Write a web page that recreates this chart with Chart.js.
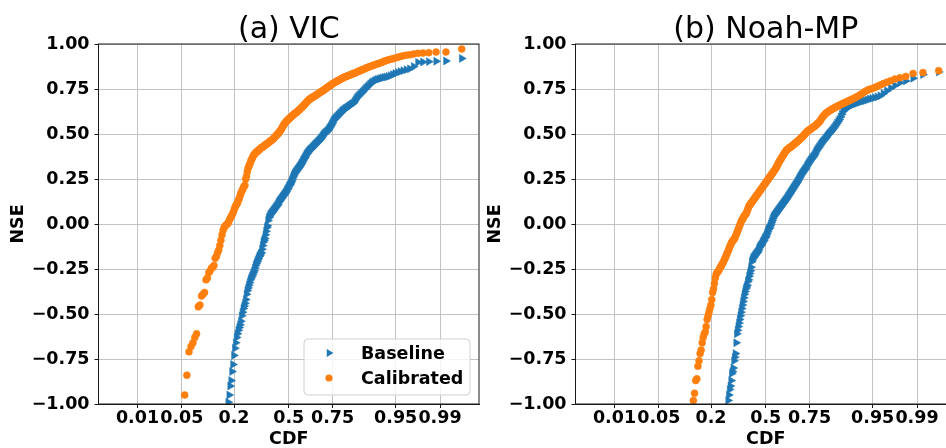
<!DOCTYPE html>
<html><head><meta charset="utf-8">
<script src="https://cdn.jsdelivr.net/npm/chart.js@4.4.0/dist/chart.umd.min.js"></script>
<style>
html,body{margin:0;padding:0;background:#fff;overflow:hidden;width:946px;height:448px;}
#wrap{position:relative;width:946px;height:448px;overflow:hidden;background:#fff;}
.panel{position:absolute;top:0;width:490px;height:448px;}
#pa{left:0;}
#pb{left:477px;}
canvas{display:block;}
</style></head><body>
<div id="wrap">
<div class="panel" id="pa"><canvas id="ca" width="490" height="448" style="width:490px;height:448px"></canvas></div>
<div class="panel" id="pb"><canvas id="cb" width="490" height="448" style="width:490px;height:448px"></canvas></div>
</div>
<script>
// ---------------- data ----------------
const nSites = 255;                       // catchments per series (ranked)
const cdfTicks = [0.01, 0.05, 0.2, 0.5, 0.75, 0.95, 0.99];
const cdfTickLabels = ['0.01', '0.05', '0.2', '0.5', '0.75', '0.95', '0.99'];
const nseMin = -1, nseMax = 1, nseStep = 0.25;
const panelTitles = ['(a) VIC', '(b) Noah-MP'];
const seriesNames = ['Baseline', 'Calibrated'];

// number of ranked values lying below NSE = -1 (off the plotted range)
const vicBaselineBelow = 44;
const vicBaseline = [
-0.99,-0.95,-0.90,-0.87,-0.82,-0.78,
-0.73,-0.69,-0.66,-0.63,-0.61,-0.59,-0.575,-0.56,-0.54,-0.51,
-0.49,-0.47,-0.455,-0.44,-0.42,-0.39,-0.37,-0.355,-0.34,-0.325,
-0.31,-0.30,-0.29,-0.28,-0.27,-0.26,-0.245,-0.23,-0.22,-0.21,
-0.20,-0.19,-0.18,-0.175,-0.165,-0.16,-0.14,-0.12,-0.10,-0.09,
-0.08,-0.06,-0.04,-0.02,-0.01,0.02,0.035,0.04,0.05,0.055,
0.06,0.065,0.07,0.075,0.08,0.085,0.09,0.095,0.10,0.105,
0.11,0.12,0.125,0.13,0.135,0.14,0.145,0.15,0.155,0.16,
0.165,0.17,0.175,0.18,0.19,0.195,0.20,0.21,0.215,0.22,
0.228,0.235,0.245,0.255,0.265,0.272,0.28,0.285,0.29,0.295,
0.30,0.305,0.31,0.315,0.32,0.326,0.332,0.338,0.345,0.352,
0.358,0.364,0.37,0.378,0.385,0.39,0.395,0.40,0.405,0.41,
0.413,0.416,0.42,0.424,0.428,0.432,0.436,0.44,0.444,0.448,
0.452,0.456,0.46,0.464,0.468,0.473,0.478,0.484,0.49,0.497,
0.50,0.504,0.508,0.512,0.516,0.52,0.527,0.534,0.54,0.548,
0.556,0.565,0.575,0.58,0.585,0.59,0.595,0.60,0.605,0.61,
0.615,0.62,0.625,0.63,0.634,0.638,0.642,0.645,0.648,0.652,
0.656,0.66,0.664,0.668,0.672,0.68,0.69,0.70,0.707,0.713,
0.72,0.727,0.733,0.74,0.748,0.755,0.763,0.77,0.778,0.785,
0.79,0.795,0.80,0.803,0.806,0.809,0.812,0.815,0.817,0.82,
0.824,0.83,0.836,0.842,0.847,0.852,0.857,0.862,0.875,0.898,
0.90,0.902,0.904,0.906,0.92];

const vicCalibratedBelow = 13;
const vicCalibrated = [
-0.95,-0.84,-0.71,-0.68,-0.66,-0.63,-0.61,
-0.46,-0.45,-0.40,-0.39,-0.38,-0.31,-0.30,-0.27,-0.26,-0.245,
-0.24,-0.23,-0.19,-0.18,-0.16,-0.145,-0.12,-0.09,-0.06,-0.035,
-0.02,-0.01,-0.005,0.00,0.005,0.02,0.03,0.04,0.05,0.06,
0.075,0.09,0.10,0.11,0.115,0.13,0.14,0.155,0.17,0.18,
0.19,0.20,0.21,0.215,0.25,0.265,0.29,0.31,0.32,0.33,
0.34,0.355,0.36,0.37,0.38,0.385,0.39,0.395,0.40,0.402,
0.405,0.41,0.412,0.415,0.42,0.423,0.425,0.428,0.43,0.433,
0.436,0.44,0.442,0.445,0.448,0.45,0.453,0.456,0.46,0.462,
0.465,0.468,0.47,0.474,0.478,0.482,0.486,0.49,0.494,0.498,
0.50,0.505,0.51,0.515,0.52,0.525,0.53,0.537,0.545,0.55,
0.555,0.56,0.565,0.57,0.573,0.576,0.58,0.584,0.587,0.59,
0.593,0.596,0.60,0.603,0.606,0.609,0.612,0.615,0.618,0.62,
0.623,0.626,0.63,0.633,0.636,0.64,0.643,0.646,0.65,0.654,
0.658,0.662,0.666,0.67,0.674,0.678,0.682,0.686,0.69,0.693,
0.695,0.698,0.70,0.702,0.705,0.707,0.71,0.712,0.714,0.717,
0.72,0.722,0.725,0.728,0.73,0.733,0.735,0.738,0.74,0.743,
0.746,0.749,0.752,0.755,0.758,0.761,0.764,0.767,0.77,0.773,
0.776,0.779,0.782,0.785,0.788,0.79,0.793,0.796,0.798,0.80,
0.803,0.806,0.808,0.811,0.814,0.816,0.818,0.82,0.822,0.825,
0.827,0.829,0.831,0.834,0.836,0.838,0.84,0.843,0.846,0.849,
0.851,0.854,0.857,0.86,0.863,0.866,0.869,0.872,0.875,0.878,
0.881,0.884,0.887,0.89,0.893,0.896,0.90,0.905,0.908,0.912,
0.915,0.918,0.922,0.926,0.93,0.935,0.938,0.94,0.945,0.948,
0.95,0.952,0.955,0.955,0.972];

const noahBaselineBelow = 71;
const noahBaseline = [
-0.98,-0.95,-0.92,-0.90,-0.87,-0.83,-0.82,-0.80,-0.76,
-0.74,-0.72,-0.66,-0.61,-0.59,-0.57,-0.55,-0.53,-0.51,-0.49,
-0.47,-0.45,-0.43,-0.41,-0.39,-0.375,-0.36,-0.35,-0.34,-0.32,
-0.31,-0.29,-0.275,-0.26,-0.24,-0.21,-0.20,-0.19,-0.185,-0.18,
-0.175,-0.17,-0.165,-0.16,-0.155,-0.15,-0.14,-0.13,-0.125,-0.12,
-0.115,-0.11,-0.10,-0.095,-0.09,-0.08,-0.075,-0.07,-0.06,-0.05,
-0.04,-0.03,-0.025,-0.02,-0.01,0.00,0.01,0.02,0.03,0.04,
0.045,0.05,0.055,0.06,0.065,0.07,0.075,0.08,0.085,0.09,
0.095,0.10,0.105,0.11,0.115,0.12,0.125,0.13,0.135,0.14,
0.146,0.152,0.158,0.164,0.17,0.176,0.182,0.188,0.194,0.20,
0.206,0.212,0.218,0.224,0.23,0.237,0.245,0.252,0.26,0.267,
0.273,0.28,0.286,0.292,0.298,0.304,0.31,0.318,0.326,0.334,
0.34,0.347,0.354,0.36,0.366,0.372,0.378,0.385,0.395,0.405,
0.413,0.42,0.427,0.434,0.442,0.45,0.456,0.462,0.468,0.475,
0.482,0.49,0.497,0.504,0.51,0.517,0.524,0.532,0.54,0.55,
0.56,0.57,0.58,0.595,0.61,0.625,0.635,0.64,0.645,0.65,
0.655,0.66,0.664,0.667,0.67,0.673,0.676,0.68,0.683,0.686,
0.69,0.694,0.698,0.702,0.706,0.712,0.725,0.74,0.755,0.77,
0.785,0.795,0.81,0.83,0.845];

const noahCalibratedBelow = 33;
const noahCalibrated = [
-0.98,-0.94,-0.87,-0.86,-0.79,-0.76,-0.72,
-0.70,-0.66,-0.63,-0.61,-0.60,-0.57,-0.53,-0.51,-0.49,-0.47,
-0.45,-0.42,-0.38,-0.36,-0.33,-0.30,-0.28,-0.27,-0.265,-0.26,
-0.25,-0.24,-0.235,-0.225,-0.218,-0.21,-0.20,-0.19,-0.18,-0.17,
-0.16,-0.15,-0.14,-0.127,-0.12,-0.11,-0.10,-0.095,-0.09,-0.085,
-0.08,-0.07,-0.06,-0.05,-0.04,-0.03,-0.02,-0.01,0.00,0.01,
0.02,0.025,0.03,0.04,0.045,0.05,0.055,0.06,0.07,0.08,
0.09,0.10,0.105,0.11,0.115,0.12,0.125,0.13,0.135,0.14,
0.145,0.15,0.155,0.16,0.165,0.17,0.175,0.18,0.185,0.19,
0.195,0.20,0.205,0.21,0.215,0.22,0.225,0.23,0.235,0.24,
0.245,0.25,0.255,0.26,0.265,0.27,0.275,0.28,0.285,0.29,
0.295,0.30,0.305,0.31,0.318,0.325,0.332,0.34,0.346,0.352,
0.358,0.364,0.37,0.376,0.382,0.388,0.394,0.40,0.405,0.41,
0.413,0.416,0.419,0.422,0.425,0.428,0.43,0.433,0.436,0.44,
0.443,0.446,0.45,0.453,0.456,0.46,0.463,0.466,0.47,0.474,
0.478,0.482,0.486,0.49,0.495,0.50,0.505,0.51,0.514,0.518,
0.521,0.524,0.527,0.53,0.533,0.536,0.54,0.543,0.547,0.551,
0.556,0.56,0.565,0.57,0.578,0.586,0.594,0.60,0.606,0.612,
0.617,0.621,0.625,0.629,0.632,0.636,0.64,0.643,0.646,0.65,
0.653,0.656,0.66,0.663,0.666,0.67,0.673,0.676,0.68,0.684,
0.688,0.692,0.696,0.70,0.705,0.71,0.716,0.722,0.73,0.737,
0.744,0.748,0.753,0.758,0.765,0.772,0.78,0.788,0.796,0.805,
0.812,0.82,0.836,0.841,0.852];

// ---------------- probability (normal quantile) axis helper ----------------
function qnorm(p){
  const a=[-3.969683028665376e+01,2.209460984245205e+02,-2.759285104469687e+02,1.383577518672690e+02,-3.066479806614716e+01,2.506628277459239e+00];
  const b=[-5.447609879822406e+01,1.615858368580409e+02,-1.556989798598866e+02,6.680131188771972e+01,-1.328068155288572e+01];
  const c=[-7.784894002430293e-03,-3.223964580411365e-01,-2.400758277161838e+00,-2.549732539343734e+00,4.374664141464968e+00,2.938163982698783e+00];
  const d=[7.784695709041462e-03,3.224671290700398e-01,2.445134137142996e+00,3.754408661907416e+00];
  const pl=0.02425, ph=1-pl; let q,r;
  if(p<pl){q=Math.sqrt(-2*Math.log(p));return (((((c[0]*q+c[1])*q+c[2])*q+c[3])*q+c[4])*q+c[5])/((((d[0]*q+d[1])*q+d[2])*q+d[3])*q+1);}
  if(p<=ph){q=p-0.5;r=q*q;return (((((a[0]*r+a[1])*r+a[2])*r+a[3])*r+a[4])*r+a[5])*q/(((((b[0]*r+b[1])*r+b[2])*r+b[3])*r+b[4])*r+1);}
  q=Math.sqrt(-2*Math.log(1-p));return -(((((c[0]*q+c[1])*q+c[2])*q+c[3])*q+c[4])*q+c[5])/((((d[0]*q+d[1])*q+d[2])*q+d[3])*q+1);
}
// plotting position of rank i (Weibull i/(n+1)), on the normal-quantile axis
function toPoints(values, below){
  return values.map((v,k)=>({x: qnorm((below+k+1)/(nSites+1)), y: v}));
}
const zEdge = qnorm(nSites/(nSites+1));
const xLim = zEdge*1.1;   // 5% margins each side

// ---------------- styling ----------------
const FONT = 'DejaVu Sans';
const BLUE = '#1f77b4', ORANGE = '#ff7f0e';
const tickFont = {family: FONT, size: 17.5, weight: 'bold'};
const Y_AXIS_W = 98.5, X_AXIS_H = 44, TOP_PAD = 44, RIGHT_PAD = 11;

function fmtNSE(v){
  const s = Math.abs(v).toFixed(2);
  return (v < -1e-9 ? '\u2212' : '') + s;
}

const framePlugin = {
  id: 'frame',
  afterDraw(chart){
    const {ctx, chartArea: a} = chart;
    ctx.save();
    ctx.strokeStyle = '#1a1a1a'; ctx.lineWidth = 1;
    ctx.strokeRect(a.left, a.top, a.right - a.left, a.bottom - a.top);
    ctx.restore();
  }
};
const titlePlugin = {
  id: 'ptitle',
  afterDraw(chart, args, opts){
    const {ctx, chartArea: a} = chart;
    ctx.save();
    ctx.font = '30px "' + FONT + '"';
    ctx.fillStyle = '#000'; ctx.textAlign = 'center'; ctx.textBaseline = 'alphabetic';
    ctx.fillText(opts.text, (a.left + a.right)/2, 38);
    ctx.restore();
  }
};
function roundRect(ctx, x, y, w, h, r){
  ctx.beginPath();
  ctx.moveTo(x+r, y); ctx.lineTo(x+w-r, y); ctx.arcTo(x+w, y, x+w, y+r, r);
  ctx.lineTo(x+w, y+h-r); ctx.arcTo(x+w, y+h, x+w-r, y+h, r);
  ctx.lineTo(x+r, y+h); ctx.arcTo(x, y+h, x, y+h-r, r);
  ctx.lineTo(x, y+r); ctx.arcTo(x, y, x+r, y, r); ctx.closePath();
}
const legendPlugin = {
  id: 'plegend',
  afterDraw(chart, args, opts){
    if (!opts.show) return;
    const {ctx, chartArea: a} = chart;
    const w = 166, h = 56;
    const x0 = a.right - 9 - w, y0 = a.bottom - 9 - h;
    ctx.save();
    roundRect(ctx, x0, y0, w, h, 4);
    ctx.fillStyle = 'rgba(255,255,255,0.8)'; ctx.fill();
    ctx.strokeStyle = '#d0d0d0'; ctx.lineWidth = 1; ctx.stroke();
    const ds = chart.data.datasets;
    const mx = x0 + 25;
    const rows = [y0 + 14, y0 + 39];
    ds.forEach((d, i) => {
      const cy = rows[i];
      ctx.fillStyle = d.pointBackgroundColor;
      ctx.beginPath();
      if (d.pointStyle === 'triangle'){
        const r = 4.5;
        ctx.moveTo(mx + r, cy);
        ctx.lineTo(mx - r/2, cy - r*0.866);
        ctx.lineTo(mx - r/2, cy + r*0.866);
        ctx.closePath();
      } else {
        ctx.arc(mx, cy, 3.6, 0, Math.PI*2);
      }
      ctx.fill();
      ctx.fillStyle = '#000';
      ctx.font = 'bold 17.5px "' + FONT + '"';
      ctx.textAlign = 'left'; ctx.textBaseline = 'middle';
      ctx.fillText(d.label, x0 + 57, cy + 1);
    });
    ctx.restore();
  }
};

function makeChart(id, title, base, baseBelow, cal, calBelow, showLegend){
  return new Chart(document.getElementById(id), {
    type: 'scatter',
    data: {
      datasets: [
        {label: seriesNames[0], data: toPoints(base, baseBelow), pointStyle: 'triangle', pointRotation: 90,
         pointRadius: 4.6, pointBackgroundColor: BLUE, pointBorderColor: BLUE, pointBorderWidth: 0.5,
         backgroundColor: BLUE, borderColor: BLUE, order: 1, clip: 0, showLine: false},
        {label: seriesNames[1], data: toPoints(cal, calBelow), pointStyle: 'circle',
         pointRadius: 3.5, pointBackgroundColor: ORANGE, pointBorderColor: ORANGE, pointBorderWidth: 0.5,
         backgroundColor: ORANGE, borderColor: ORANGE, order: 0, clip: 0, showLine: false}
      ]
    },
    options: {
      responsive: false, animation: false, events: [],
      layout: {padding: {left: 0, right: RIGHT_PAD, top: TOP_PAD, bottom: 0}},
      plugins: {legend: {display: false}, tooltip: {enabled: false}, title: {display: false},
                ptitle: {text: title}, plegend: {show: showLegend}},
      scales: {
        x: {
          type: 'linear', min: -xLim, max: xLim, bounds: 'data',
          afterBuildTicks: s => { s.ticks = cdfTicks.map(p => ({value: qnorm(p)})); },
          afterFit: s => { s.height = X_AXIS_H; },
          ticks: {autoSkip: false, maxRotation: 0, minRotation: 0, padding: 0, color: '#000', font: tickFont,
                  callback: (v, i) => cdfTickLabels[i]},
          grid: {color: '#c2c2c2', lineWidth: 1, tickLength: 4, tickColor: '#1a1a1a', drawTicks: true},
          border: {display: true, color: '#1a1a1a', width: 1},
          title: {display: true, text: 'CDF', color: '#000', padding: {top: 0, bottom: 0},
                  font: {family: FONT, size: 17.5, weight: 'bold', lineHeight: 1}}
        },
        y: {
          type: 'linear', min: nseMin, max: nseMax,
          afterFit: s => { s.width = Y_AXIS_W; },
          ticks: {stepSize: nseStep, padding: 5, color: '#000', font: tickFont, callback: v => fmtNSE(v)},
          grid: {color: '#c2c2c2', lineWidth: 1, tickLength: 4, tickColor: '#1a1a1a', drawTicks: true},
          border: {display: true, color: '#1a1a1a', width: 1},
          title: {display: true, text: 'NSE', color: '#000', padding: {top: 10, bottom: 0},
                  font: {family: FONT, size: 17.5, weight: 'bold', lineHeight: 1}}
        }
      }
    },
    plugins: [framePlugin, titlePlugin, legendPlugin]
  });
}

makeChart('ca', panelTitles[0], vicBaseline, vicBaselineBelow, vicCalibrated, vicCalibratedBelow, true);
makeChart('cb', panelTitles[1], noahBaseline, noahBaselineBelow, noahCalibrated, noahCalibratedBelow, false);
</script>
</body></html>
